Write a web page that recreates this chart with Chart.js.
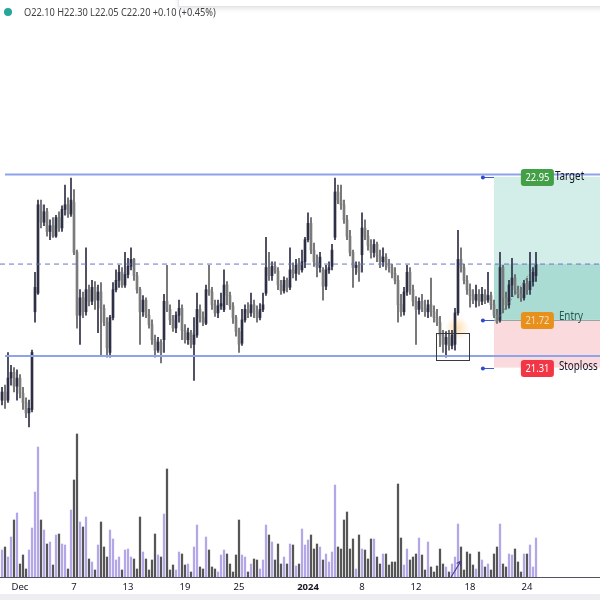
<!DOCTYPE html>
<html>
<head>
<meta charset="utf-8">
<script src="https://cdn.jsdelivr.net/npm/chart.js@4.4.0/dist/chart.umd.min.js"></script>
<style>
  html, body { margin: 0; padding: 0; background: #fff; }
  #wrap { position: relative; width: 600px; height: 600px; overflow: hidden; font-family: "Noto Sans", sans-serif; }
  #dot { position: absolute; left: 4px; top: 8px; width: 8px; height: 8px; border-radius: 50%; background: #26a69a; }
  #ohlc { position: absolute; left: 24px; top: 4px; font-size: 11px; line-height: 15px; color: #444;
          transform: scaleX(0.84); transform-origin: left center; white-space: nowrap; }
  #panel { position: absolute; left: 178px; top: -20px; width: 440px; height: 25px; background: #fff;
           border: 1px solid #e3e5ea; box-shadow: 0 2px 4px rgba(0,0,0,0.10); }
</style>
</head>
<body>
<div id="wrap">
  <canvas id="chart" width="600" height="600"></canvas>
  <div id="dot"></div>
  <div id="ohlc">O22.10 H22.30 L22.05 C22.20 +0.10 (+0.45%)</div>
  <div id="panel"></div>
</div>
<script>
// hourly candles, late Nov 2023 -> 24 Jan 2024
const opens = [
  21.03, 21.10, 21.03, 21.22, 21.27, 21.15, 21.22, 21.09, 21.01, 20.92,
  20.95, 21.79, 21.95, 22.71, 22.56, 22.65, 22.48, 22.53, 22.44, 22.60,
  22.51, 22.67, 22.71, 22.63, 22.73, 22.30, 21.76, 21.91, 21.79, 21.98,
  21.88, 22.00, 21.89, 21.96, 21.82, 21.70, 21.44, 21.74, 21.98, 22.06,
  22.13, 22.02, 22.11, 22.18, 22.24, 22.10, 21.98, 21.79, 21.89, 21.76,
  21.68, 21.55, 21.46, 21.53, 21.55, 21.88, 21.81, 21.72, 21.65, 21.76,
  21.82, 21.63, 21.55, 21.61, 21.51, 21.59, 21.81, 21.74, 21.69, 21.98,
  21.96, 21.85, 21.78, 21.84, 21.81, 22.02, 21.93, 21.84, 21.74, 21.62,
  21.52, 21.72, 21.81, 21.78, 21.85, 21.79, 21.74, 21.81, 21.95, 22.17,
  22.10, 22.18, 22.14, 22.02, 21.97, 22.06, 22.00, 22.15, 22.12, 22.19,
  22.15, 22.22, 22.41, 22.55, 22.32, 22.22, 22.17, 22.15, 22.01, 22.15,
  22.18, 22.43, 22.82, 22.75, 22.71, 22.58, 22.44, 22.30, 22.17, 22.19,
  22.28, 22.51, 22.44, 22.36, 22.30, 22.37, 22.27, 22.22, 22.26, 22.19,
  22.17, 22.12, 22.06, 21.85, 21.79, 21.96, 22.13, 21.98, 21.88, 21.81,
  21.88, 21.82, 21.79, 21.85, 21.79, 21.74, 21.70, 21.59, 21.51, 21.57,
  21.50, 21.51, 21.78, 22.24, 22.17, 22.06, 21.98, 21.93, 21.89, 21.94,
  21.88, 21.94, 21.89, 21.93, 21.85, 21.76, 21.72, 22.17, 21.91, 21.85,
  22.02, 22.08, 21.98, 21.94, 21.91, 22.03, 21.98, 22.05, 22.10
];
const highs = [
  21.14, 21.16, 21.44, 21.33, 21.31, 21.29, 21.25, 21.14, 21.05, 21.03,
  21.46, 22.13, 22.75, 22.75, 22.71, 22.68, 22.58, 22.60, 22.62, 22.65,
  22.70, 22.88, 22.77, 22.94, 22.84, 22.32, 21.98, 21.96, 22.34, 22.02,
  22.06, 22.05, 22.02, 22.04, 21.85, 21.74, 21.76, 22.04, 22.15, 22.19,
  22.17, 22.30, 22.25, 22.34, 22.25, 22.13, 22.00, 21.93, 21.91, 21.81,
  21.72, 21.59, 21.57, 21.55, 21.94, 22.19, 21.85, 21.76, 21.79, 21.89,
  21.85, 21.68, 21.65, 21.63, 21.74, 21.95, 21.85, 21.79, 22.02, 22.19,
  22.00, 21.89, 21.89, 21.95, 22.15, 22.05, 21.96, 21.87, 21.76, 21.65,
  21.81, 21.85, 21.87, 21.95, 21.89, 21.84, 21.86, 21.95, 22.43, 22.30,
  22.22, 22.22, 22.17, 22.06, 22.09, 22.08, 22.34, 22.21, 22.24, 22.25,
  22.32, 22.43, 22.64, 22.60, 22.38, 22.28, 22.30, 22.17, 22.19, 22.22,
  22.37, 22.94, 22.88, 22.88, 22.75, 22.62, 22.49, 22.32, 22.22, 22.22,
  22.64, 22.58, 22.49, 22.41, 22.41, 22.39, 22.32, 22.34, 22.29, 22.24,
  22.20, 22.17, 22.10, 21.94, 22.00, 22.19, 22.17, 22.02, 21.92, 21.91,
  21.94, 21.89, 21.89, 22.08, 21.84, 21.81, 21.75, 21.63, 21.62, 21.63,
  21.63, 21.82, 22.49, 22.34, 22.20, 22.10, 22.03, 21.98, 22.02, 21.98,
  22.00, 21.98, 22.13, 21.96, 21.89, 21.81, 22.30, 22.19, 21.96, 22.06,
  22.25, 22.11, 22.01, 22.00, 22.06, 22.08, 22.30, 22.17, 22.30
];
const lows = [
  20.99, 20.96, 21.01, 21.16, 21.10, 21.03, 21.05, 20.95, 20.88, 20.80,
  20.93, 21.70, 21.94, 22.51, 22.53, 22.44, 22.41, 22.43, 22.43, 22.48,
  22.48, 22.62, 22.60, 22.61, 22.28, 21.65, 21.51, 21.74, 21.76, 21.84,
  21.85, 21.81, 21.61, 21.42, 21.67, 21.40, 21.40, 21.72, 21.96, 22.00,
  22.00, 22.00, 22.08, 22.15, 22.06, 21.95, 21.51, 21.75, 21.74, 21.65,
  21.51, 21.40, 21.44, 21.35, 21.44, 21.79, 21.68, 21.62, 21.61, 21.70,
  21.55, 21.52, 21.51, 21.48, 21.20, 21.57, 21.70, 21.67, 21.68, 21.93,
  21.81, 21.75, 21.74, 21.81, 21.79, 21.85, 21.81, 21.69, 21.58, 21.44,
  21.50, 21.70, 21.74, 21.75, 21.74, 21.70, 21.72, 21.79, 21.93, 22.06,
  22.06, 22.12, 21.98, 21.94, 21.95, 21.96, 21.98, 22.08, 22.06, 22.11,
  22.13, 22.17, 22.39, 22.29, 22.18, 22.09, 22.13, 21.89, 21.98, 22.12,
  22.15, 22.41, 22.72, 22.67, 22.55, 22.41, 22.27, 22.00, 22.11, 22.05,
  22.13, 22.41, 22.32, 22.25, 22.26, 22.22, 22.17, 22.18, 22.15, 22.13,
  22.08, 22.03, 21.70, 21.75, 21.76, 21.93, 21.94, 21.84, 21.51, 21.77,
  21.79, 21.75, 21.74, 21.75, 21.70, 21.67, 21.49, 21.44, 21.40, 21.46,
  21.47, 21.46, 21.76, 22.13, 22.03, 21.94, 21.83, 21.86, 21.83, 21.84,
  21.85, 21.86, 21.87, 21.81, 21.74, 21.69, 21.70, 21.78, 21.81, 21.82,
  21.92, 21.94, 21.91, 21.88, 21.89, 21.94, 21.94, 22.01, 22.05
];
const closes = [
  21.10, 21.03, 21.22, 21.27, 21.15, 21.22, 21.09, 21.01, 20.92, 20.96,
  21.44, 22.00, 22.71, 22.56, 22.65, 22.48, 22.53, 22.44, 22.60, 22.51,
  22.67, 22.71, 22.63, 22.75, 22.30, 21.76, 21.91, 21.79, 21.98, 21.88,
  22.00, 21.89, 21.96, 21.82, 21.70, 21.48, 21.74, 21.98, 22.06, 22.13,
  22.02, 22.11, 22.18, 22.24, 22.10, 21.98, 21.79, 21.89, 21.76, 21.68,
  21.55, 21.46, 21.53, 21.44, 21.88, 21.81, 21.72, 21.65, 21.76, 21.82,
  21.63, 21.55, 21.61, 21.51, 21.59, 21.81, 21.74, 21.70, 21.98, 21.96,
  21.85, 21.78, 21.84, 21.86, 22.02, 21.93, 21.84, 21.74, 21.62, 21.51,
  21.72, 21.81, 21.78, 21.85, 21.79, 21.74, 21.81, 21.85, 22.17, 22.10,
  22.18, 22.14, 22.02, 21.97, 22.06, 22.00, 22.15, 22.12, 22.19, 22.15,
  22.22, 22.41, 22.55, 22.32, 22.22, 22.17, 22.26, 22.01, 22.15, 22.17,
  22.32, 22.82, 22.75, 22.71, 22.58, 22.44, 22.30, 22.17, 22.19, 22.13,
  22.51, 22.44, 22.36, 22.30, 22.37, 22.27, 22.22, 22.26, 22.19, 22.17,
  22.12, 22.06, 21.85, 21.79, 21.96, 22.13, 21.98, 21.88, 21.81, 21.88,
  21.82, 21.79, 21.85, 21.79, 21.74, 21.70, 21.59, 21.51, 21.57, 21.50,
  21.59, 21.78, 22.24, 22.17, 22.06, 21.98, 21.93, 21.89, 21.94, 21.88,
  21.94, 21.89, 21.93, 21.85, 21.76, 21.70, 22.17, 21.91, 21.85, 22.02,
  22.08, 21.98, 21.94, 21.91, 22.03, 21.98, 22.05, 22.13, 22.20
];
// volume, thousands of shares
const volumes = [
  27, 30, 20, 40, 57, 64, 13, 22, 8, 27,
  49, 85, 130, 57, 47, 33, 35, 12, 42, 43,
  33, 32, 8, 67, 97, 143, 55, 50, 60, 18,
  15, 7, 32, 55, 30, 20, 47, 38, 17, 20,
  7, 27, 28, 20, 18, 8, 60, 25, 18, 7,
  17, 43, 22, 20, 63, 108, 7, 12, 7, 25,
  23, 12, 13, 5, 30, 52, 10, 8, 40, 27,
  10, 8, 5, 22, 27, 23, 13, 5, 22, 57,
  22, 20, 5, 13, 18, 17, 8, 17, 52, 42,
  35, 17, 33, 13, 20, 13, 33, 32, 11, 13,
  48, 32, 37, 42, 28, 33, 30, 17, 23, 15,
  25, 92, 30, 28, 57, 65, 28, 38, 8, 42,
  28, 27, 18, 38, 38, 20, 13, 23, 23, 12,
  15, 15, 93, 39, 12, 28, 17, 20, 23, 39,
  22, 7, 35, 10, 5, 11, 28, 13, 10, 5,
  13, 20, 53, 30, 7, 25, 23, 12, 8, 25,
  17, 10, 13, 7, 23, 30, 53, 13, 10, 23,
  22, 28, 15, 5, 23, 23, 32, 10, 39
];

// date labels on the time axis, placed at bar index
const tickPos = [6, 24, 42, 61, 79, 102, 120, 138, 156, 175];
const tickLabels = ['Dec', '7', '13', '19', '25', '2024', '8', '12', '18', '24'];

// drawn levels
const resistance = 22.97;
const support = 21.41;
const lastPrice = 22.20;
const target = 22.95;
const entry = 21.72;
const stop = 21.31;

// where the drawings sit (bar index / price)
const xMin = -2 / 3, xMax = 199 + 1 / 3;
const levelStart = 1;
const posStart = 164;
const handleAt = 160.3;
const labelAt = 178.3;
const boxFrom = [144.7, 21.61], boxTo = [155.7, 21.38];
const glowAt = [151.7, 21.65];
const arrowFrom = [149.7, 0], arrowTo = [153, 16];

const UP = '#2d2f45', DOWN = '#7b7b7b';
const VOL_UP = '#b4a7e8', VOL_DOWN = '#565656';
const isUp = i => closes[i] >= opens[i];

function squeezed(ctx, text, x, y, align, k) {
  ctx.save();
  ctx.translate(x, y);
  ctx.scale(k, 1);
  ctx.textAlign = align;
  ctx.fillText(text, 0, 0);
  ctx.restore();
}

const drawings = {
  id: 'drawings',
  beforeDatasetsDraw(chart) {
    const { ctx, chartArea, scales: { x, y } } = chart;
    const x0 = x.getPixelForValue(posStart), x1 = chartArea.right;
    const yT = y.getPixelForValue(target), yE = y.getPixelForValue(entry);
    const yS = y.getPixelForValue(stop), yC = y.getPixelForValue(lastPrice);
    ctx.save();
    ctx.fillStyle = '#d3ede8';
    ctx.fillRect(x0, yT, x1 - x0, yE - yT);
    ctx.fillStyle = '#abdcd3';
    ctx.fillRect(x0, yC, x1 - x0, yE - yC);
    ctx.fillStyle = '#fadadd';
    ctx.fillRect(x0, yE, x1 - x0, yS - yE);
    ctx.strokeStyle = '#9aa5a3';
    ctx.lineWidth = 1;
    ctx.beginPath();
    ctx.moveTo(x0, Math.round(yE) + 0.5);
    ctx.lineTo(x1, Math.round(yE) + 0.5);
    ctx.stroke();

    // soft highlight near the retest
    const gx = x.getPixelForValue(glowAt[0]), gy = y.getPixelForValue(glowAt[1]);
    const g = ctx.createRadialGradient(gx, gy, 0, gx, gy, 12);
    g.addColorStop(0, 'rgba(255,196,110,0.55)');
    g.addColorStop(1, 'rgba(255,196,110,0)');
    ctx.fillStyle = g;
    ctx.beginPath();
    ctx.arc(gx, gy, 12, 0, Math.PI * 2);
    ctx.fill();
    ctx.restore();
  },
  afterDatasetsDraw(chart) {
    const { ctx, scales: { x, y, vol } } = chart;
    ctx.save();

    // retest box
    const bx0 = x.getPixelForValue(boxFrom[0]), by0 = y.getPixelForValue(boxFrom[1]);
    const bx1 = x.getPixelForValue(boxTo[0]), by1 = y.getPixelForValue(boxTo[1]);
    ctx.strokeStyle = '#3a3a3a';
    ctx.lineWidth = 1;
    ctx.strokeRect(Math.round(bx0) + 0.5, Math.round(by0) + 0.5, Math.round(bx1 - bx0), Math.round(by1 - by0));

    // path from entry to the last close
    ctx.strokeStyle = 'rgba(110,110,110,0.7)';
    ctx.setLineDash([2, 2]);
    ctx.beginPath();
    ctx.moveTo(x.getPixelForValue(posStart + 1), y.getPixelForValue(entry));
    ctx.lineTo(x.getPixelForValue(closes.length - 1), y.getPixelForValue(lastPrice));
    ctx.stroke();
    ctx.setLineDash([]);

    // handles and tags of the long position
    const tags = [
      { price: target, text: '22.95', name: 'Target', fill: '#43a047', ink: '#ffffff', nameInk: '#131722', dx: 18, dy: -1 },
      { price: entry, text: '21.72', name: 'Entry', fill: '#e8901c', ink: 'rgba(255,255,255,0.7)', nameInk: '#1f5a4e', dx: 22, dy: -4 },
      { price: stop, text: '21.31', name: 'Stoploss', fill: '#f23645', ink: '#ffffff', nameInk: '#131722', dx: 22, dy: -2 }
    ];
    const hx = x.getPixelForValue(handleAt), px0 = x.getPixelForValue(posStart);
    const cx = x.getPixelForValue(labelAt);
    tags.forEach(t => {
      const py = Math.round(y.getPixelForValue(t.price)) + 0.5;
      ctx.strokeStyle = '#3b5bdb';
      ctx.lineWidth = 1;
      ctx.beginPath();
      ctx.moveTo(hx, py);
      ctx.lineTo(px0, py);
      ctx.stroke();
      ctx.fillStyle = '#2f4acb';
      ctx.beginPath();
      ctx.arc(hx, py, 2, 0, Math.PI * 2);
      ctx.fill();

      ctx.fillStyle = t.fill;
      ctx.beginPath();
      ctx.roundRect(cx - 16, py - 8.5, 33, 17, 3);
      ctx.fill();
      ctx.font = '11px "Noto Sans"';
      ctx.textBaseline = 'middle';
      ctx.fillStyle = t.ink;
      squeezed(ctx, t.text, cx + 0.5, py + 0.5, 'center', 0.85);
      ctx.font = '12px "Noto Sans"';
      ctx.fillStyle = t.nameInk;
      squeezed(ctx, t.name, cx + t.dx, py + t.dy, 'left', 0.82);
    });

    // small arrow in the volume pane
    const ax0 = x.getPixelForValue(arrowFrom[0]), ay0 = vol.getPixelForValue(arrowFrom[1]);
    const ax1 = x.getPixelForValue(arrowTo[0]), ay1 = vol.getPixelForValue(arrowTo[1]);
    const ang = Math.atan2(ay1 - ay0, ax1 - ax0);
    ctx.strokeStyle = '#4b3f8f';
    ctx.lineWidth = 1.2;
    ctx.beginPath();
    ctx.moveTo(ax0, ay0);
    ctx.lineTo(ax1, ay1);
    ctx.moveTo(ax1, ay1);
    ctx.lineTo(ax1 - 5 * Math.cos(ang - 0.5), ay1 - 5 * Math.sin(ang - 0.5));
    ctx.moveTo(ax1, ay1);
    ctx.lineTo(ax1 - 5 * Math.cos(ang + 0.5), ay1 - 5 * Math.sin(ang + 0.5));
    ctx.stroke();

    // strip under the time axis
    ctx.fillStyle = '#eceef2';
    ctx.fillRect(0, chart.height - 6, chart.width, 6);
    ctx.restore();
  }
};

const ctx = document.getElementById('chart').getContext('2d');
new Chart(ctx, {
  type: 'bar',
  data: {
    datasets: [
      {
        type: 'line',
        data: [{ x: levelStart, y: resistance }, { x: xMax, y: resistance }],
        borderColor: '#8ea3e8', borderWidth: 2, pointRadius: 0, yAxisID: 'y', order: 0
      },
      {
        type: 'line',
        data: [{ x: levelStart, y: support }, { x: xMax, y: support }],
        borderColor: '#8ea3e8', borderWidth: 2, pointRadius: 0, yAxisID: 'y', order: 0
      },
      {
        type: 'line',
        data: [{ x: xMin, y: lastPrice }, { x: xMax, y: lastPrice }],
        borderColor: '#6b74c8', borderWidth: 1, borderDash: [5, 4], pointRadius: 0, yAxisID: 'y', order: 0
      },
      {
        label: 'body',
        data: opens.map((o, i) => ({ x: i, y: [o, closes[i]] })),
        backgroundColor: c => isUp(c.dataIndex) ? UP : DOWN,
        barThickness: 2, grouped: false, yAxisID: 'y', order: 1
      },
      {
        label: 'wick',
        data: lows.map((l, i) => ({ x: i, y: [l, highs[i]] })),
        backgroundColor: c => isUp(c.dataIndex) ? UP : '#5e5e5e',
        barThickness: 1, grouped: false, yAxisID: 'y', order: 2
      },
      {
        label: 'volume',
        data: volumes.map((v, i) => ({ x: i, y: v })),
        backgroundColor: c => isUp(c.dataIndex) ? VOL_UP : VOL_DOWN,
        barThickness: 1.6, grouped: false, yAxisID: 'vol', order: 3
      }
    ]
  },
  options: {
    responsive: false,
    animation: false,
    devicePixelRatio: 1,
    layout: { padding: 0 },
    plugins: { legend: { display: false }, tooltip: { enabled: false } },
    scales: {
      x: {
        type: 'linear',
        min: xMin,
        max: xMax,
        offset: false,
        grid: { display: false, drawTicks: false },
        border: { display: true, color: '#50535e', width: 1 },
        afterBuildTicks: s => { s.ticks = tickPos.map(v => ({ value: v })); },
        afterFit: s => { s.height = 23; },
        ticks: {
          autoSkip: false,
          maxRotation: 0,
          padding: 5,
          color: '#131722',
          font: c => ({ family: '"Noto Sans"', size: 9.5, weight: c.tick && c.tick.value === tickPos[5] ? 'bold' : 'normal' }),
          callback: v => tickLabels[tickPos.indexOf(v)]
        }
      },
      y: { display: false, min: 19.51, max: 24.47 },
      vol: { display: false, min: 0, max: 577 }
    }
  },
  plugins: [drawings]
});
</script>
</body>
</html>
